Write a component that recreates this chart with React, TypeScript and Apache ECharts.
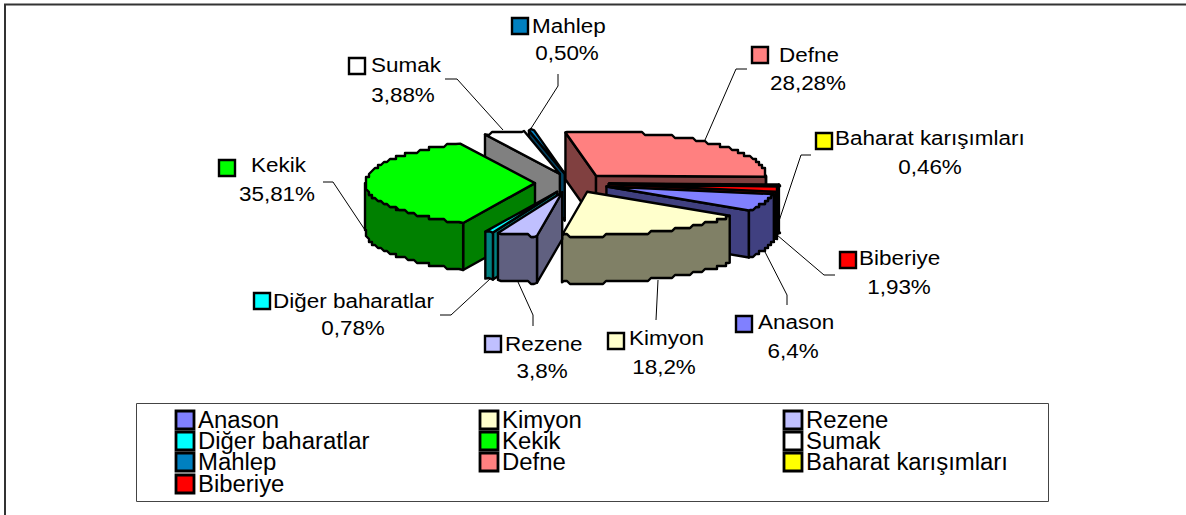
import React, { useEffect, useRef } from "react";
import * as echarts from "echarts";

const categories = ["Anason", "Kimyon", "Rezene", "Diğer baharatlar", "Kekik", "Sumak", "Mahlep", "Defne", "Baharat karışımları", "Biberiye"];
const values = [6.4, 18.2, 3.8, 0.78, 35.81, 3.88, 0.5, 28.28, 0.46, 1.93];
const valueLabels = ["6,4%", "18,2%", "3,8%", "0,78%", "35,81%", "3,88%", "0,50%", "28,28%", "0,46%", "1,93%"];
const colors = ["#8080FF", "#FFFFCC", "#C0C0FF", "#00FFFF", "#00FF00", "#FFFFFF", "#0080C0", "#FF8080", "#FFFF00", "#FF0000"];
const wallColors = ["#404080", "#808066", "#606080", "#008080", "#008000", "#808080", "#004060", "#804040", "#808000", "#800000"];

// Pie geometry
const CX = 572, CY = 183, RX = 170, RY = 44, DEPTH = 47, EXPLODE = 37, FIRST_ANGLE = 10;
const total = values.reduce((a, b) => a + b, 0);

// Label layout, by category: swatch x/y, name left x/centre y, percent centre x/centre y, leader line
const labelLayout = [
  { sx: 736, sy: 316, nx: 758, ny: 322, px: 793, py: 351, line: [[787, 305], [787, 295], [763, 248]] },
  { sx: 608, sy: 333, nx: 629, ny: 338, px: 664, py: 367, line: [[658, 280], [656, 320]] },
  { sx: 485, sy: 336, nx: 505, ny: 344, px: 542, py: 371, line: [[518, 282], [533, 315], [533, 326]] },
  { sx: 254, sy: 293, nx: 273, ny: 301, px: 353, py: 328, line: [[490, 279], [451, 315], [440, 315]] },
  { sx: 219, sy: 160, nx: 251, ny: 165, px: 277, py: 194, line: [[323, 182], [333, 182], [365, 230]] },
  { sx: 349, sy: 58, nx: 371, ny: 65, px: 403, py: 95, line: [[445, 79], [457, 79], [503, 130]] },
  { sx: 512, sy: 18, nx: 532, ny: 26, px: 567, py: 53, line: [[558, 74], [558, 86], [530, 130]] },
  { sx: 752, sy: 47, nx: 779, ny: 55, px: 808, py: 83, line: [[747, 69], [736, 69], [705, 140]] },
  { sx: 816, sy: 133, nx: 835, ny: 138, px: 930, py: 167, line: [[811, 155], [801, 155], [777, 227]] },
  { sx: 840, sy: 252, nx: 859, ny: 258, px: 899, py: 287, line: [[835, 275], [824, 275], [777, 235]] },
];
const legendColumns = [176, 480, 784];
const legendRows = [421, 442, 463, 485];

const rad = (d: number) => (d * Math.PI) / 180;
const q = (v: number) => Math.round(v / 3) * 3;

const sliceAngles = values.map((_, i) => {
  const before = values.slice(0, i).reduce((a, b) => a + b, 0);
  const a0 = FIRST_ANGLE + (before / total) * 360;
  return [a0, a0 + (values[i] / total) * 360];
});

function arc(cx: number, cy: number, a0: number, a1: number) {
  const pts: number[][] = [];
  const n = Math.max(1, Math.ceil(a1 - a0));
  for (let k = 0; k <= n; k++) {
    const a = rad(a0 + ((a1 - a0) * k) / n);
    const x = cx + RX * Math.cos(a);
    const y = cy + RY * Math.sin(a);
    const edge = k === 0 || k === n;
    const p = edge ? [x, y] : [q(x), q(y)];
    const last = pts[pts.length - 1];
    if (!last || last[0] !== p[0] || last[1] !== p[1]) pts.push(p);
  }
  return pts;
}

function renderSlice(_: any, api: any) {
  const i = api.value(1);
  const [a0, a1] = sliceAngles[i];
  const mid = rad((a0 + a1) / 2);
  const cx = CX + EXPLODE * Math.cos(mid);
  const cy = CY + (EXPLODE * RY * Math.sin(mid)) / RX;
  const style = (fill: string) => ({ fill, stroke: "#000", lineWidth: 2.4, lineJoin: "round" });
  const poly = (points: number[][], fill: string) => ({ type: "polygon", shape: { points }, style: style(fill) });
  const children: any[] = [];
  const wall = wallColors[i];
  const edgeAt = (a: number) => [cx + RX * Math.cos(rad(a)), cy + RY * Math.sin(rad(a))];
  const face = (a: number) => {
    const e = edgeAt(a);
    return poly([[cx, cy], e, [e[0], e[1] + DEPTH], [cx, cy + DEPTH]], wall);
  };
  if (Math.cos(rad(a0)) < 0) children.push(face(a0));
  if (Math.cos(rad(a1)) > 0) children.push(face(a1));
  for (const [lo, hi] of [[0, 180], [360, 540]]) {
    const s = Math.max(a0, lo), e = Math.min(a1, hi);
    if (e > s) {
      const top = arc(cx, cy, s, e);
      const bottom = top.map(([x, y]) => [x, y + DEPTH]).reverse();
      children.push(poly([...top, ...bottom], wall));
    }
  }
  children.push(poly([[cx, cy], ...arc(cx, cy, a0, a1)], colors[i]));
  return { type: "group", children };
}

const drawOrder = values
  .map((v, i) => ({ value: [v, i], name: categories[i] }))
  .sort((a, b) => {
    const m = (d: any) => Math.sin(rad((sliceAngles[d.value[1]][0] + sliceAngles[d.value[1]][1]) / 2));
    return m(a) - m(b);
  });

const FONT = "Liberation Sans";

function swatch(x: number, y: number, size: number, fill: string, lineWidth: number) {
  return { type: "rect", shape: { x, y, width: size, height: size }, style: { fill, stroke: "#000", lineWidth } };
}
function text(x: number, y: number, t: string, fontSize: number, scaleX: number, align: string) {
  return {
    type: "text", x, y, scaleX,
    style: { text: t, fontFamily: FONT, fontSize, fill: "#000", align, verticalAlign: "middle" },
  };
}

function buildGraphic() {
  const els: any[] = [
    { type: "polyline", shape: { points: [[5, 515], [5, 4.5], [1186, 4.5]] }, style: { fill: "none", stroke: "#333", lineWidth: 2 } },
    { type: "rect", shape: { x: 136.5, y: 403.5, width: 912, height: 98 }, style: { fill: "#fff", stroke: "#444", lineWidth: 1 } },
  ];
  categories.forEach((name, i) => {
    const l = labelLayout[i];
    els.push({ type: "polyline", shape: { points: l.line }, style: { fill: "none", stroke: "#000", lineWidth: 1 } });
    els.push(swatch(l.sx, l.sy, 16, colors[i], 2.4));
    els.push(text(l.nx, l.ny, name, 21, 1.07, "left"));
    els.push(text(l.px, l.py, valueLabels[i], 21, 1.07, "center"));
    const col = legendColumns[i % 3];
    const row = legendRows[Math.floor(i / 3)];
    els.push(swatch(col, row - 10, 18, colors[i], 2.8));
    els.push(text(col + 22, row - 1, name, 23, 1.04, "left"));
  });
  return els;
}

export default function App() {
  const ref = useRef<HTMLDivElement>(null);
  useEffect(() => {
    document.body.style.margin = "0";
    const chart = echarts.init(ref.current!, undefined, { renderer: "svg" });
    chart.setOption({
      animation: false,
      backgroundColor: "#fff",
      graphic: { elements: buildGraphic() },
      series: [
        {
          type: "custom",
          coordinateSystem: "none",
          silent: true,
          renderItem: renderSlice,
          data: drawOrder,
        },
      ],
    });
    return () => chart.dispose();
  }, []);
  return <div ref={ref} style={{ width: 1186, height: 515 }} />;
}
